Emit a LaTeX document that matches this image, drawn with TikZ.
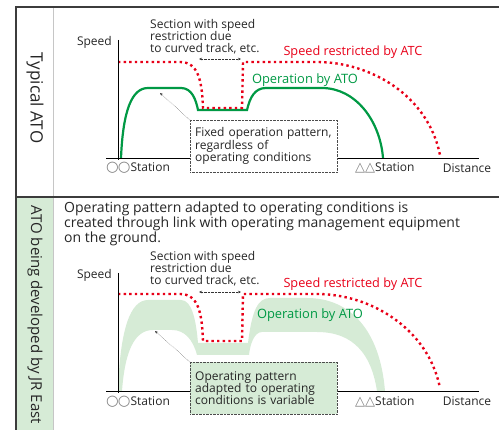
\documentclass[tikz,border=0pt]{standalone}
\usepackage{fontspec}
\setmainfont{Open Sans}
\newfontfamily\symfont{DejaVu Sans}
\usetikzlibrary{arrows.meta, positioning}
\definecolor{atcred}{RGB}{232,0,24}
\definecolor{atogreen}{RGB}{0,153,68}
\definecolor{bandgreen}{RGB}{214,235,214}
\definecolor{framegray}{RGB}{60,60,60}
\newcommand{\markO}{{\symfont\fontsize{14.5}{12}\selectfont\color{gray}○\kern-1pt○}}
\newcommand{\markT}{{\symfont\fontsize{13}{12}\selectfont\color{gray}△△}}

\begin{document}
\begin{tikzpicture}[
  x=1pt, y=-1pt,
  every node/.style={font=\fontsize{12}{12}\selectfont, inner sep=0pt, text=black!85},
  atcline/.style={draw=atcred, line width=2.4pt, dash pattern=on 2.4pt off 3.2pt},
  atoline/.style={draw=atogreen, line width=2.2pt},
  axis/.style={draw=black, line width=0.9pt},
  redlabel/.style={text=atcred, font=\fontsize{12.7}{13}\selectfont},
  greenlabel/.style={text=atogreen, font=\fontsize{12.9}{13}\selectfont},
  sectext/.style={anchor=north west, align=left},
  calloutbox/.style={draw=gray!60!black, densely dotted, anchor=north west, align=left,
    text width=137pt, minimum height=52pt, inner sep=5pt},
  leader/.style={densely dotted, gray!40!black, -{Stealth[length=3pt, width=2.5pt]}},
  section/.style={densely dotted, gray!40!black, {Stealth[length=3pt, width=2.5pt]}-{Stealth[length=3pt, width=2.5pt]}},
  sidelabel/.style={rotate=-90, font=\fontsize{15}{16}\selectfont}
]
\useasboundingbox (0,0) rectangle (499,430);
\clip (0,0) rectangle (499,430);

% frame and side column
\fill[bandgreen] (16,197) rectangle (53,440);
\draw[gray!45, line width=0.8pt] (53,7) -- (53,440);
\draw[framegray, line width=1.3pt] (16,440) -- (16,7) -- (520,7);
\draw[framegray, line width=1.6pt] (16,197) -- (520,197);
\node[sidelabel, font=\fontsize{17}{18}\selectfont] (typical) at (35,98) {Typical ATO};
\node[sidelabel] (jreast) at (35,315) {ATO being developed by JR East};

% typical ATO
\draw[atoline] (121,158) .. controls (123,110) and (132,88) .. (148,88) -- (181,88)
  .. controls (192,88) and (196,100) .. (198,110) -- (247,110)
  .. controls (250,97) and (255,88) .. (266,88) -- (322,88)
  .. controls (355,88) and (380,120) .. (383,158);
\draw[atcline] (118,62) -- (180,62) .. controls (198,62) and (202,80) .. (203,108)
  -- (242,108) -- (243,62) -- (317,62) .. controls (370,62) and (428,95) .. (440,155);
\draw[axis] (118,40) -- (118,160);
\draw[axis] (106,158) -- (479,158);
\node[anchor=east] (speedtop) at (112,42) {Speed};
\node[anchor=west] (stationAtop) at (106,168) {\markO Station};
\node[anchor=west] (stationBtop) at (355,168) {\markT Station};
\node (distancetop) at (467,168) {Distance};
\node[redlabel] (atctop) at (353,52) {Speed restricted by ATC};
\node[greenlabel] (atotop) at (305,80) {Operation by ATO};
\node[sectext] (sectop) at (150,19) {Section with speed\\restriction due\\to curved track, etc.};
\coordinate (secLtop) at (199,59);
\coordinate (secRtop) at (241,59);
\draw[section] (secLtop) -- (secRtop);
\node[calloutbox, fill=white] (fixedbox) at (190,120) {Fixed operation pattern,\\regardless of\\operating conditions};
\coordinate (fixedtip) at (160,93);
\draw[leader] (fixedbox.north west) -- (fixedtip);

% ATO being developed
\node[anchor=north west, align=left, font=\fontsize{14}{13.6}\selectfont] (intro) at (64,202)
  {Operating pattern adapted to operating conditions is\\created through link with operating management equipment\\on the ground.};
\fill[bandgreen] (118,391) .. controls (120,330) and (130,300) .. (148,300) -- (181,300)
  .. controls (192,300) and (196,320) .. (198,343) -- (248,343)
  .. controls (252,310) and (258,298) .. (270,298) -- (307,298)
  .. controls (350,298) and (380,330) .. (385,391) -- (377,391)
  .. controls (370,345) and (345,332) .. (317,332) -- (262,332)
  .. controls (254,332) and (250,345) .. (249,355) -- (197,355)
  .. controls (193,340) and (185,330) .. (172,330) -- (153,330)
  .. controls (135,330) and (125,350) .. (122,391) -- cycle;
\draw[atcline] (118,294) -- (180,294) .. controls (198,294) and (202,312) .. (203,341)
  -- (242,341) -- (243,294) -- (317,294) .. controls (370,294) and (428,328) .. (440,388);
\draw[axis] (118,273) -- (118,393);
\draw[axis] (106,391) -- (479,391);
\node[anchor=east] (speedlow) at (112,275) {Speed};
\node[anchor=west] (stationAlow) at (106,402) {\markO Station};
\node[anchor=west] (stationBlow) at (355,402) {\markT Station};
\node (distancelow) at (467,401) {Distance};
\node[redlabel] (atclow) at (353,284) {Speed restricted by ATC};
\node[greenlabel] (atolow) at (310,315) {Operation by ATO};
\node[sectext] (seclow) at (150,251) {Section with speed\\restriction due\\to curved track, etc.};
\coordinate (secLlow) at (199,292);
\coordinate (secRlow) at (241,292);
\draw[section] (secLlow) -- (secRlow);
\node[calloutbox, fill=bandgreen] (variablebox) at (190,362) {Operating pattern\\adapted to operating\\conditions is variable};
\coordinate (variabletip) at (155,331);
\draw[leader] (variablebox.north west) -- (variabletip);
\end{tikzpicture}
\end{document}
